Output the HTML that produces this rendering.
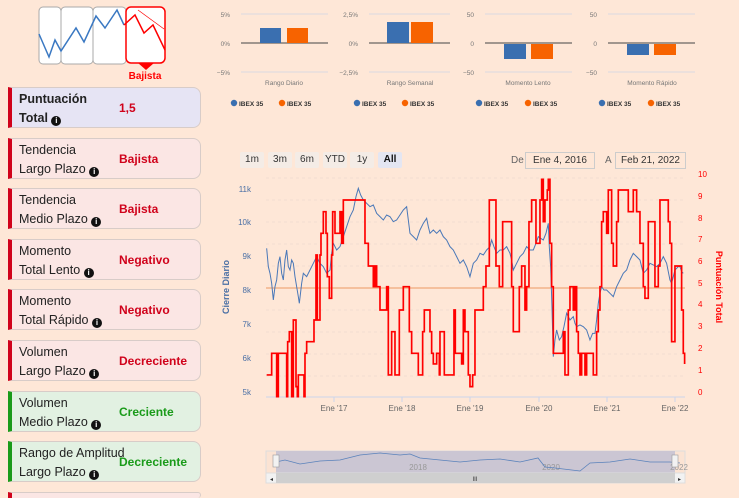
<!DOCTYPE html>
<html style="width:739px;height:498px;overflow:hidden"><head><meta charset="utf-8"><style>
html,body{margin:0;width:739px;height:498px;overflow:hidden}
body{background:#fee7d7;font-family:"Liberation Sans",sans-serif;position:relative}
.card{position:absolute;left:8px;width:193px;height:41px;border:1px solid #d8ccc8;border-left:4px solid #d0021b;border-radius:0 8px 8px 0;box-sizing:border-box;background:#fbe6e4}
.card .l{position:absolute;left:7px;top:2px;font-size:12.5px;line-height:19px;color:#222;white-space:nowrap}
.card .v{position:absolute;left:107px;top:13px;font-size:12px;font-weight:bold;color:#d0021b}
.card.g{border-left-color:#1a9b1a;background:#e2f1e2}.card.g .v{color:#1a9b1a}
.i{display:inline-block;width:10px;height:10px;border-radius:50%;background:#111;color:#fff;font-size:8px;line-height:10px;text-align:center;font-weight:bold;vertical-align:-1px}
.btn{position:absolute;top:152px;height:16px;background:#f4ece6;font-size:10px;color:#333;text-align:center;line-height:16px;border-radius:2px}
</style></head><body>
<svg width="739" height="498" style="position:absolute;left:0;top:0">
<g stroke="#aaa" fill="#fff" stroke-width="1"><rect x="39" y="7" width="22" height="57" rx="4"/><rect x="61" y="7" width="32" height="57" rx="4"/><rect x="93" y="7" width="33" height="57" rx="4"/></g>
<rect x="126" y="7" width="39" height="56" rx="5" fill="#fff" stroke="#f00" stroke-width="1.5"/>
<polygon points="138,63 154,63 146,70" fill="#f00"/>
<polyline points="39,34 49,57 55,40 61,51 76,28 84,42 96,16 105,28 117,10 124,25" fill="none" stroke="#3a78c2" stroke-width="1.5"/>
<polyline points="124,25 135,15 144,33 153,25 165,50" fill="none" stroke="#f00" stroke-width="1.5"/>
<line x1="138" y1="10" x2="164" y2="29" stroke="#f00" stroke-width="0.7"/>
<text x="145" y="79" font-size="10" fill="#f00" text-anchor="middle" font-weight="bold">Bajista</text>
<g font-size="6.5" fill="#777">
<g stroke="#e6dede" stroke-width="1.5"><line x1="241" y1="14" x2="328" y2="14"/><line x1="241" y1="72" x2="328" y2="72"/><line x1="369" y1="14" x2="450" y2="14"/><line x1="369" y1="72" x2="450" y2="72"/><line x1="485" y1="14" x2="572" y2="14"/><line x1="485" y1="72" x2="572" y2="72"/><line x1="608" y1="14" x2="695" y2="14"/><line x1="608" y1="72" x2="695" y2="72"/></g>
<g stroke="#444" stroke-width="1"><line x1="241" y1="43" x2="328" y2="43"/><line x1="369" y1="43" x2="450" y2="43"/><line x1="485" y1="43" x2="572" y2="43"/><line x1="608" y1="43" x2="695" y2="43"/></g>
<rect x="260" y="28" width="21" height="15" fill="#3a6fb0"/><rect x="287" y="28" width="21" height="15" fill="#f76300"/>
<rect x="387" y="22" width="22" height="21" fill="#3a6fb0"/><rect x="411" y="22" width="22" height="21" fill="#f76300"/>
<rect x="504" y="44" width="22" height="15" fill="#3a6fb0"/><rect x="531" y="44" width="22" height="15" fill="#f76300"/>
<rect x="627" y="44" width="22" height="11" fill="#3a6fb0"/><rect x="654" y="44" width="22" height="11" fill="#f76300"/>
<text x="230" y="17" text-anchor="end">5%</text><text x="230" y="46" text-anchor="end">0%</text><text x="230" y="75" text-anchor="end">−5%</text>
<text x="358" y="17" text-anchor="end">2,5%</text><text x="358" y="46" text-anchor="end">0%</text><text x="358" y="75" text-anchor="end">−2,5%</text>
<text x="474" y="17" text-anchor="end">50</text><text x="474" y="46" text-anchor="end">0</text><text x="474" y="75" text-anchor="end">−50</text>
<text x="597" y="17" text-anchor="end">50</text><text x="597" y="46" text-anchor="end">0</text><text x="597" y="75" text-anchor="end">−50</text>
<text x="284" y="85" text-anchor="middle">Rango Diario</text><text x="410" y="85" text-anchor="middle">Rango Semanal</text><text x="528" y="85" text-anchor="middle">Momento Lento</text><text x="652" y="85" text-anchor="middle">Momento Rápido</text>
</g>
<g font-size="6.5" fill="#333" font-weight="bold">
<circle cx="234" cy="103" r="3.2" fill="#3a6fb0"/><text x="239" y="106">IBEX 35</text><circle cx="282" cy="103" r="3.2" fill="#f76300"/><text x="287" y="106">IBEX 35</text>
<circle cx="357" cy="103" r="3.2" fill="#3a6fb0"/><text x="362" y="106">IBEX 35</text><circle cx="405" cy="103" r="3.2" fill="#f76300"/><text x="410" y="106">IBEX 35</text>
<circle cx="479" cy="103" r="3.2" fill="#3a6fb0"/><text x="484" y="106">IBEX 35</text><circle cx="528" cy="103" r="3.2" fill="#f76300"/><text x="533" y="106">IBEX 35</text>
<circle cx="602" cy="103" r="3.2" fill="#3a6fb0"/><text x="607" y="106">IBEX 35</text><circle cx="651" cy="103" r="3.2" fill="#f76300"/><text x="656" y="106">IBEX 35</text>
</g>
<g stroke="#f0dcd0" stroke-dasharray="3,3" stroke-width="0.7"><line x1="266" y1="178" x2="685" y2="178"/><line x1="266" y1="200" x2="685" y2="200"/><line x1="266" y1="222" x2="685" y2="222"/><line x1="266" y1="244" x2="685" y2="244"/><line x1="266" y1="266" x2="685" y2="266"/><line x1="266" y1="310" x2="685" y2="310"/><line x1="266" y1="332" x2="685" y2="332"/><line x1="266" y1="354" x2="685" y2="354"/><line x1="266" y1="376" x2="685" y2="376"/></g>
<line x1="266" y1="397" x2="685" y2="397" stroke="#ccd6eb"/>
<g stroke="#ccd6eb"><line x1="334" y1="397" x2="334" y2="402"/><line x1="402" y1="397" x2="402" y2="402"/><line x1="470" y1="397" x2="470" y2="402"/><line x1="539" y1="397" x2="539" y2="402"/><line x1="607" y1="397" x2="607" y2="402"/><line x1="675" y1="397" x2="675" y2="402"/></g>
<g font-size="8" fill="#666" text-anchor="middle"><text x="334" y="411">Ene '17</text><text x="402" y="411">Ene '18</text><text x="470" y="411">Ene '19</text><text x="539" y="411">Ene '20</text><text x="607" y="411">Ene '21</text><text x="675" y="411">Ene '22</text></g>
<g font-size="8" fill="#4a6fa5" text-anchor="end"><text x="251" y="192">11k</text><text x="251" y="225">10k</text><text x="251" y="259">9k</text><text x="251" y="293">8k</text><text x="251" y="327">7k</text><text x="251" y="361">6k</text><text x="251" y="395">5k</text></g>
<g font-size="8" fill="#f00"><text x="698" y="177">10</text><text x="698" y="199">9</text><text x="698" y="221">8</text><text x="698" y="242">7</text><text x="698" y="264">6</text><text x="698" y="286">5</text><text x="698" y="307">4</text><text x="698" y="329">3</text><text x="698" y="351">2</text><text x="698" y="373">1</text><text x="698" y="395">0</text></g>
<text transform="translate(229,287) rotate(-90)" font-size="9" fill="#4a6fa5" text-anchor="middle" font-weight="bold">Cierre Diario</text>
<text transform="translate(716,287) rotate(90)" font-size="9" fill="#f00" text-anchor="middle" font-weight="bold">Puntuación Total</text>
<line x1="266" y1="288" x2="685" y2="288" stroke="#f2b48a" stroke-width="1.5"/>
<g transform="translate(210,140) scale(0.3333)">
<polyline fill="none" stroke="#4a78b8" stroke-width="3" points="170,325 175,380 180,400 185,430 190,480 195,440 200,420 205,370 210,350 215,400 220,420 225,360 230,330 235,380 240,390 245,360 250,370 255,410 260,440 265,470 268,490 275,430 280,400 290,410 300,390 310,370 320,350 330,370 340,380 350,400 360,390 365,340 370,310 380,330 390,320 400,290 410,260 420,230 430,210 438,170 445,145 452,165 460,180 470,190 480,200 490,195 500,220 510,230 520,240 530,225 540,230 550,245 560,240 570,225 580,210 590,200 595,240 600,280 610,290 620,300 630,270 640,250 650,235 655,260 660,280 670,270 680,280 690,270 700,290 710,300 720,320 730,330 740,350 750,370 760,360 770,380 780,410 785,390 790,370 800,360 810,340 820,345 830,330 840,320 845,300 852,320 860,340 870,330 880,330 890,320 900,340 905,360 910,390 920,370 930,350 940,340 950,320 960,330 970,330 978,310 985,290 992,295 1000,300 1008,280 1015,250 1018,320 1022,380 1026,500 1030,650 1035,600 1040,570 1048,600 1055,590 1062,560 1070,520 1080,540 1090,530 1095,550 1100,560 1110,555 1120,560 1130,570 1140,600 1148,580 1155,580 1160,540 1165,490 1170,460 1175,440 1182,450 1190,450 1200,460 1210,470 1220,440 1230,420 1240,400 1250,390 1260,360 1270,340 1280,350 1290,360 1295,380 1300,400 1310,390 1320,370 1330,375 1340,380 1350,370 1360,350 1370,370 1380,420 1385,430 1395,390 1405,380 1410,380 1415,395 1420,400"/>
<path fill="none" stroke="#f00" stroke-width="5" d="M170,705 H185 V640 H200 V770 H205 V640 H230 V770 H233 V605 H238 V575 H245 V770 H250 V540 H258 V740 H262 V770 H265 V705 H282 V770 H285 V640 H290 V605 H312 V540 H318 V345 H322 V540 H330 V345 H333 V280 H340 V215 H348 V280 H352 V410 H358 V475 H365 V345 H368 V215 H375 V280 H390 V215 H395 V310 H400 V180 H465 V310 H475 V378 H490 V440 H495 V378 H500 V440 H510 V510 H530 V440 H535 V705 H545 V575 H555 V705 H568 V510 H580 V440 H598 V575 H605 V640 H625 V705 H638 V575 H643 V510 H660 V575 H665 V640 H670 V672 H680 V640 H688 V705 H690 V575 H703 V705 H732 V510 H736 V640 H755 V672 H760 V510 H765 V575 H775 V705 H780 V740 H788 V705 H795 V510 H820 V440 H828 V378 H838 V180 H858 V378 H868 V440 H878 V245 H905 V440 H910 V575 H928 V440 H935 V378 H945 V510 H950 V440 H957 V245 H965 V180 H978 V310 H990 V180 H995 V118 H1000 V245 H1005 V180 H1012 V150 H1015 V118 H1020 V310 H1025 V440 H1030 V640 H1060 V575 H1065 V705 H1075 V510 H1080 V440 H1090 V510 H1095 V440 H1100 V575 H1105 V640 H1110 V705 H1115 V640 H1125 V705 H1130 V640 H1150 V705 H1160 V575 H1165 V510 H1170 V440 H1175 V245 H1180 V215 H1190 V280 H1195 V150 H1205 V310 H1210 V378 H1220 V245 H1225 V150 H1255 V215 H1270 V150 H1280 V215 H1290 V310 H1300 V440 H1305 V475 H1315 V245 H1335 V440 H1345 V378 H1350 V180 H1375 V245 H1380 V310 H1385 V605 H1395 V378 H1415 V510 H1420 V640 H1424 V672"/>
</g>
<rect x="266" y="451" width="419" height="22" fill="#fbe3d3" stroke="#ddd"/>
<rect x="276" y="451" width="399" height="22" fill="#cbc6d3"/>
<g font-size="8" fill="#999" text-anchor="middle"><text x="418" y="470">2018</text><text x="551" y="470">2020</text><text x="679" y="470">2022</text></g>
<polyline fill="none" stroke="#5a82bb" stroke-width="0.8" points="276,462 285,460 300,464 320,461 340,460 360,455 380,453 400,455 410,454 420,458 440,460 460,462 480,460 500,459 520,462 538,458 545,467 555,468 580,471 590,463 610,462 630,459 650,462 670,462 680,463"/>
<rect x="273" y="455" width="6" height="12" fill="#f2f2f2" stroke="#999" stroke-width="0.6"/><rect x="672" y="455" width="6" height="12" fill="#f2f2f2" stroke="#999" stroke-width="0.6"/>
<rect x="266" y="473" width="419" height="10" fill="#f2f2f2" stroke="#ddd"/>
<rect x="276" y="473" width="399" height="10" fill="#cfcfcf"/>
<text x="475" y="481" font-size="6" fill="#333" text-anchor="middle">III</text>
<text x="270" y="481" font-size="6" fill="#333">◂</text><text x="678" y="481" font-size="6" fill="#333">▸</text>
</svg>
<div class="btn" style="left:240px;width:24px">1m</div>
<div class="btn" style="left:268px;width:24px">3m</div>
<div class="btn" style="left:295px;width:24px">6m</div>
<div class="btn" style="left:323px;width:24px">YTD</div>
<div class="btn" style="left:350px;width:24px">1y</div>
<div class="btn" style="left:378px;width:24px;background:#e4e6f2;font-weight:bold;color:#111">All</div>
<div style="position:absolute;left:511px;top:155px;font-size:10px;color:#666">De</div>
<div style="position:absolute;left:525px;top:152px;width:68px;height:15px;border:1px solid #ccc;font-size:10px;color:#333;text-align:center;line-height:15px">Ene 4, 2016</div>
<div style="position:absolute;left:605px;top:155px;font-size:10px;color:#666">A</div>
<div style="position:absolute;left:615px;top:152px;width:69px;height:15px;border:1px solid #ccc;font-size:10px;color:#333;text-align:center;line-height:15px">Feb 21, 2022</div>

<div class="card" style="top:87px;background:#e6e4f4"><div class="l" style="font-weight:bold">Puntuación<br>Total <span class="i">i</span></div><div class="v">1,5</div></div>
<div class="card" style="top:138px"><div class="l">Tendencia<br>Largo Plazo <span class="i">i</span></div><div class="v">Bajista</div></div>
<div class="card" style="top:188px"><div class="l">Tendencia<br>Medio Plazo <span class="i">i</span></div><div class="v">Bajista</div></div>
<div class="card" style="top:239px"><div class="l">Momento<br>Total Lento <span class="i">i</span></div><div class="v">Negativo</div></div>
<div class="card" style="top:289px"><div class="l">Momento<br>Total Rápido <span class="i">i</span></div><div class="v">Negativo</div></div>
<div class="card" style="top:340px"><div class="l">Volumen<br>Largo Plazo <span class="i">i</span></div><div class="v">Decreciente</div></div>
<div class="card g" style="top:391px"><div class="l">Volumen<br>Medio Plazo <span class="i">i</span></div><div class="v">Creciente</div></div>
<div class="card g" style="top:441px"><div class="l">Rango de Amplitud<br>Largo Plazo <span class="i">i</span></div><div class="v">Decreciente</div></div>
<div class="card" style="top:492px;height:6px;border-bottom:none"></div>
</body></html>
